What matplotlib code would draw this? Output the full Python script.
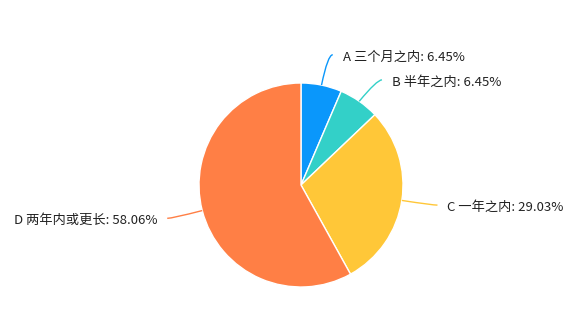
import numpy as np
import matplotlib
matplotlib.use("Agg")
import matplotlib.pyplot as plt
from matplotlib.path import Path
from matplotlib.patches import PathPatch

plt.rcParams['font.family'] = ['Noto Sans CJK SC', 'DejaVu Sans']

labels = ["A 三个月之内", "B 半年之内", "C 一年之内", "D 两年内或更长"]
values = [6.45, 6.45, 29.03, 58.06]
colors = ["#0a97fb", "#33d0c8", "#ffc738", "#ff7f45"]

W, H = 580, 323
fig = plt.figure(figsize=(W / 100, H / 100), dpi=100)
ax = fig.add_axes([0, 0, 1, 1])

cx, cy, R = 301, H - 185, 102
wedges, _ = ax.pie(values, colors=colors, startangle=90, counterclock=False,
                   center=(cx, cy), radius=R, frame=True,
                   wedgeprops=dict(edgecolor='white', linewidth=1))
ax.set_xlim(0, W)
ax.set_ylim(0, H)
ax.set_aspect('equal')
ax.axis('off')

L1, L2, GAP = 31, 5, 10
# vertical nudges of labels (avoid crowding, as in the reference)
nudge = [0, -4, 0, 0]
for w, lab, val, col, dy in zip(wedges, labels, values, colors, nudge):
    mid = np.deg2rad((w.theta1 + w.theta2) / 2)
    c, s = np.cos(mid), np.sin(mid)
    p0 = (cx + R * c, cy + R * s)
    p1 = (cx + (R + L1) * c, cy + (R + L1) * s + dy)
    sign = 1 if c >= 0 else -1
    p2 = (p1[0] + sign * L2, p1[1])
    path = Path([p0, p1, p2], [Path.MOVETO, Path.CURVE3, Path.CURVE3])
    ax.add_patch(PathPatch(path, fill=False, edgecolor=col, linewidth=1))
    ax.text(p2[0] + sign * GAP, p2[1] - 2.5, f"{lab}: {val:.2f}%",
            ha='left' if sign > 0 else 'right', va='center',
            fontsize=9.5, color='#222222')

fig.savefig("out.png", dpi=100, facecolor='white')
